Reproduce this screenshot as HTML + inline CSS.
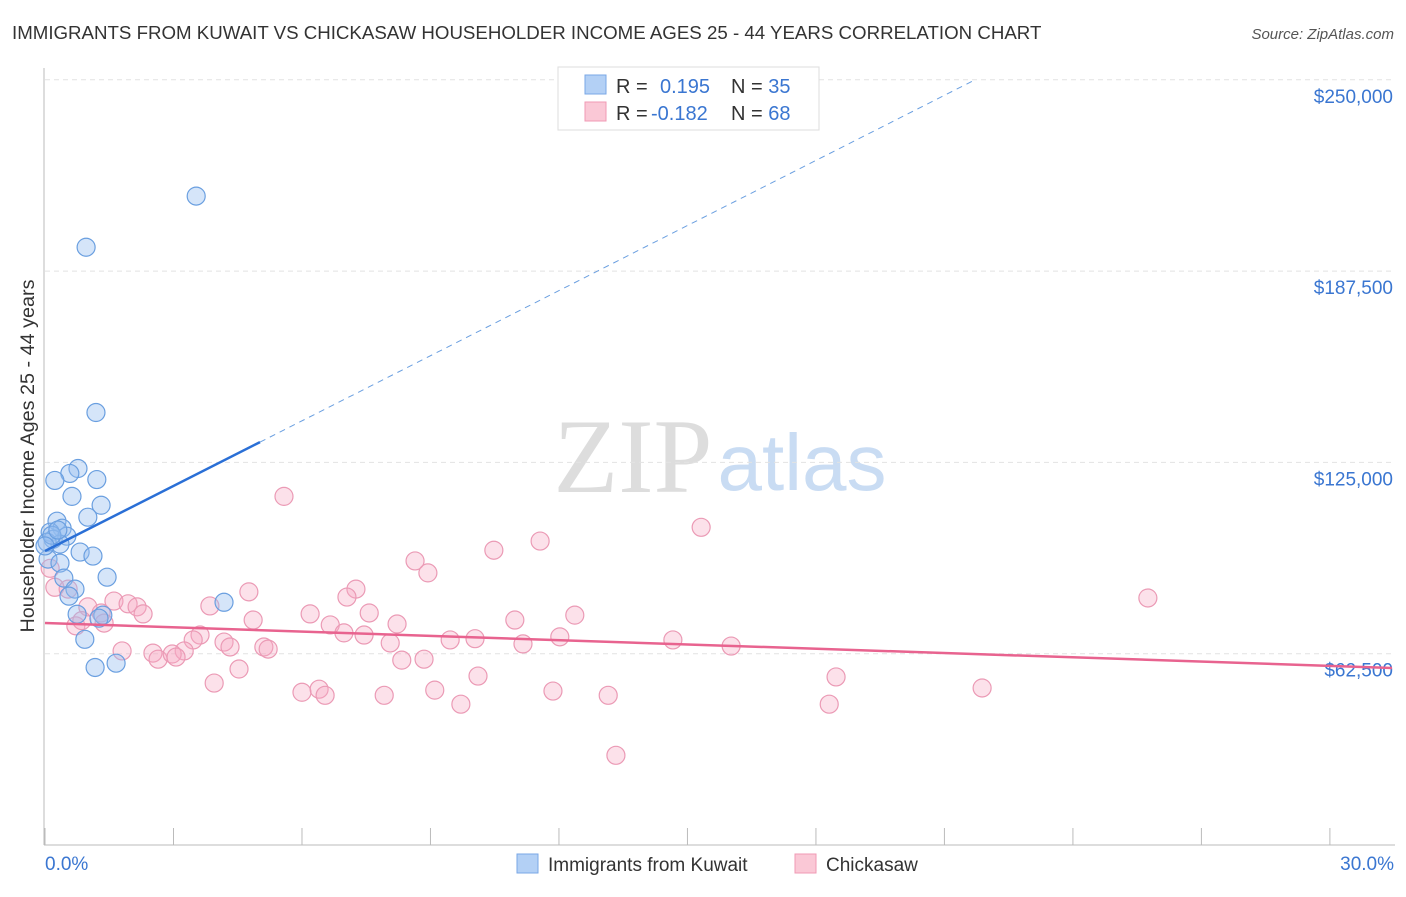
<!DOCTYPE html>
<html><head><meta charset="utf-8"><style>
body{margin:0;background:#fff;font-family:"Liberation Sans",sans-serif}
svg text{font-family:"Liberation Sans",sans-serif}
</style></head><body>
<svg id="c" width="1406" height="892">
<text x="12" y="39" font-size="18.7" fill="#333">IMMIGRANTS FROM KUWAIT VS CHICKASAW HOUSEHOLDER INCOME AGES 25 - 44 YEARS CORRELATION CHART</text>
<text x="1394" y="39" font-size="15" fill="#555" text-anchor="end" font-style="italic">Source: ZipAtlas.com</text>
<g>
<text x="633" y="492" font-size="106" fill="#ddd" text-anchor="middle" style="font-family:'Liberation Serif',serif">ZIP</text>
<text x="802" y="490" font-size="80" fill="#c9dcf3" text-anchor="middle">atlas</text>
</g>
<g id="grid"></g><g id="axes"></g><g id="marks"></g>
<text transform="translate(34,456) rotate(-90)" font-size="19.8" fill="#333" text-anchor="middle">Householder Income Ages 25 - 44 years</text>
<g>
<rect x="558" y="67" width="261" height="63" fill="#fff" stroke="#ddd"/>
<rect x="585" y="75" width="21" height="19" fill="#b3d0f5" stroke="#7aa7e6"/>
<rect x="585" y="102" width="21" height="19" fill="#fac8d6" stroke="#f09ab4"/>
<text x="616" y="93" font-size="20" fill="#333">R =  <tspan fill="#3a76d1" x="660">0.195</tspan><tspan x="731" fill="#333">N = </tspan><tspan fill="#3a76d1">35</tspan></text>
<text x="616" y="120" font-size="20" fill="#333">R = <tspan fill="#3a76d1" x="651">-0.182</tspan><tspan x="731" fill="#333">N = </tspan><tspan fill="#3a76d1">68</tspan></text>
</g>
<g>
<rect x="517" y="854" width="21" height="19" fill="#b3d0f5" stroke="#7aa7e6"/>
<text x="548" y="871" font-size="19" fill="#333">Immigrants from Kuwait</text>
<rect x="795" y="854" width="21" height="19" fill="#fac8d6" stroke="#f09ab4"/>
<text x="826" y="871" font-size="19" fill="#333">Chickasaw</text>
</g>
</svg>
<script>
const yTicks=[62500,125000,187500,250000];
const yTickLabels=["$62,500","$125,000","$187,500","$250,000"];
const xTickValues=[0,3,6,9,12,15,18,21,24,27,30];
const kuwaitX=[3.53,0.96,1.19,0.77,0.58,0.23,1.21,0.63,1.31,1.0,0.28,0.40,0.12,0.19,0.51,0.35,0.82,1.12,0.07,0.35,0.44,1.45,0.70,0.56,4.18,0.75,1.35,1.26,0.93,1.17,1.66,0.05,0.16,0.30,0.0];
const kuwaitY=[212000,195300,141300,123000,121400,119100,119400,113900,111000,107100,105800,103500,102200,99900,100900,98300,95700,94400,93400,92100,87200,87500,83600,81300,79300,75400,75100,74100,67200,58000,59400,98900,101200,102900,97700];
const chickX=[5.58,15.32,10.48,11.56,8.64,8.94,7.26,7.05,4.76,25.75,1.61,1.94,2.15,2.29,1.0,1.31,0.72,0.86,1.38,3.85,4.86,6.19,7.57,12.37,10.97,6.66,8.22,6.98,7.45,8.06,9.46,10.04,12.02,11.16,14.66,16.02,3.62,4.18,4.32,3.46,3.25,2.52,2.64,2.97,3.06,1.80,5.11,5.21,8.33,8.85,4.53,3.95,6.0,6.40,6.54,7.92,9.10,10.11,11.86,13.15,18.47,21.88,9.71,18.31,13.33,0.12,0.23,0.54];
const chickY=[113900,103800,96300,99300,92800,88900,83600,81000,82700,80700,79700,78800,77800,75500,77800,75800,71600,73300,72500,78100,73500,75500,75800,75100,73500,71900,72200,69300,68600,66000,67000,67400,68000,65700,67000,65000,68600,66300,64700,67000,63400,62700,60700,62400,61400,63400,64700,64000,60400,60700,57500,52900,49900,50900,48900,48900,50600,55200,50300,48900,54900,51300,46000,46000,29300,90400,84200,83600];
const kuwaitFit=[96040,7090];
const chickFit=[72530,-467];
const X=p=>45+p*42.83, Y=v=>845-v/62500*191.3;
const ns="http://www.w3.org/2000/svg";
function mk(t,a,p){const e=document.createElementNS(ns,t);for(const k in a)e.setAttribute(k,a[k]);p.appendChild(e);return e;}
const grid=document.getElementById('grid'),axes=document.getElementById('axes'),marks=document.getElementById('marks');
yTicks.forEach((v,i)=>{
 const l=mk('line',{x1:45,x2:1395,y1:Y(v),y2:Y(v),stroke:'#e2e2e2','stroke-dasharray':'5,4'},grid);
 
 
 const t=mk('text',{x:1393,y:Y(v)+23,'font-size':19,fill:'#3a76d1','text-anchor':'end'},grid);
 t.textContent=yTickLabels[i];
 
 
});
mk('line',{x1:44,x2:44,y1:68,y2:845,stroke:'#bbb'},axes);
mk('line',{x1:44,x2:1395,y1:845,y2:845,stroke:'#bbb'},axes);
xTickValues.forEach(p=>{const l=mk('line',{x1:X(p),x2:X(p),y1:828,y2:845,stroke:'#bbb'},axes);
 
 });
let t=mk('text',{x:45,y:870,'font-size':19,fill:'#3a76d1'},axes);t.textContent='0.0%';


t=mk('text',{x:1394,y:870,'font-size':19,fill:'#3a76d1','text-anchor':'end'},axes);t.textContent='30.0%';


chickX.forEach((x,i)=>{const c=mk('circle',{cx:X(x),cy:Y(chickY[i]),r:9,fill:'rgba(246,170,195,0.35)',stroke:'#eb9ab5','stroke-width':1.2},marks);
 
 });
kuwaitX.forEach((x,i)=>{const c=mk('circle',{cx:X(x),cy:Y(kuwaitY[i]),r:9,fill:'rgba(150,190,240,0.4)',stroke:'#6a9fe0','stroke-width':1.2},marks);
 
 });
const fy=(f,p)=>Y(f[0]+f[1]*p);
let l=mk('line',{x1:X(0),y1:fy(kuwaitFit,0),x2:X(5.02),y2:fy(kuwaitFit,5.02),stroke:'#2a6fd6','stroke-width':2.5},marks);


const pEnd=(250000-kuwaitFit[0])/kuwaitFit[1];
l=mk('line',{x1:X(5.02),y1:fy(kuwaitFit,5.02),x2:X(pEnd),y2:fy(kuwaitFit,pEnd),stroke:'#6a9fe0','stroke-width':1,'stroke-dasharray':'6,5'},marks);


l=mk('line',{x1:X(0),y1:fy(chickFit,0),x2:X(31.45),y2:fy(chickFit,31.45),stroke:'#e8638f','stroke-width':2.5},marks);


</script>
</body></html>
